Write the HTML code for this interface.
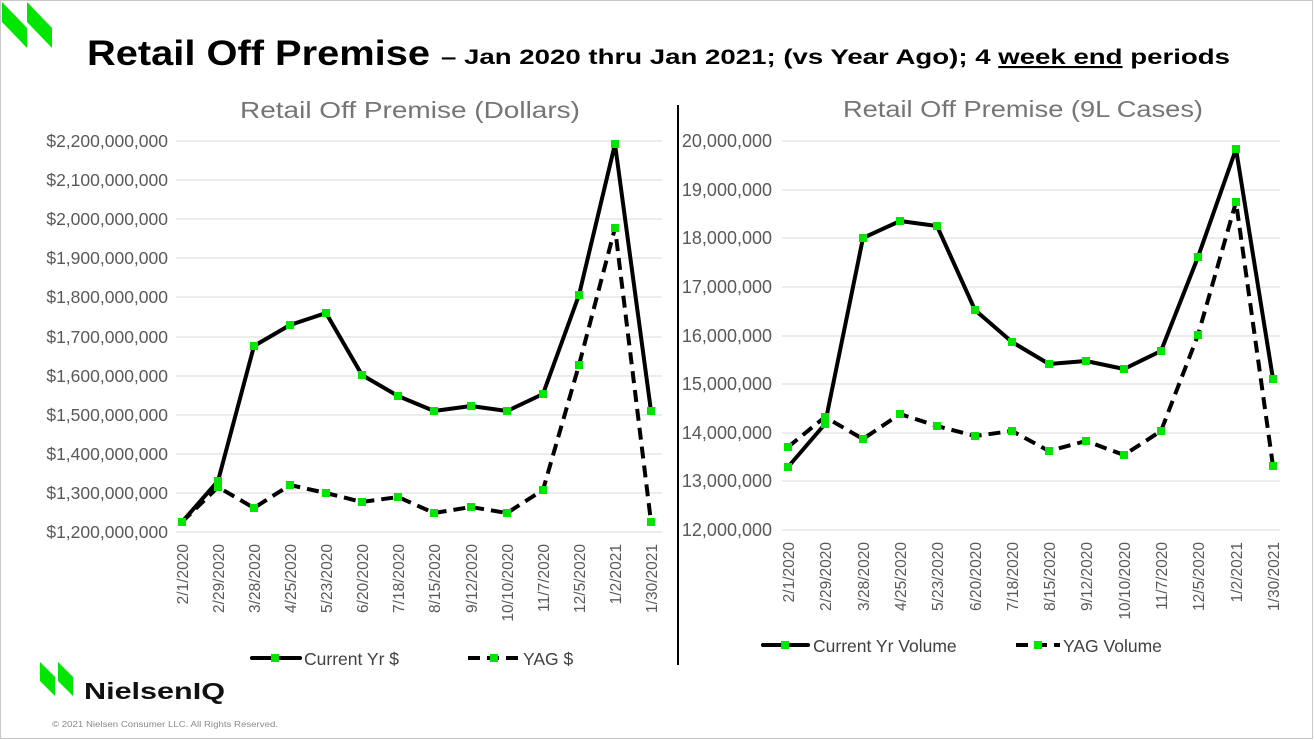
<!DOCTYPE html>
<html><head><meta charset="utf-8"><style>
html,body{margin:0;padding:0;background:#fff}
svg{display:block;font-family:"Liberation Sans",sans-serif}
</style></head><body>
<svg width="1314" height="740" viewBox="0 0 1314 740" xmlns="http://www.w3.org/2000/svg">
<rect x="0.5" y="0.5" width="1312" height="738" fill="#fff" stroke="#c8c8c8"/>
<polygon points="2,2 27,28 27,48 2,22" fill="#00e600"/>
<polygon points="27,2 52,28 52,48 27,22" fill="#00e600"/>
<text x="87" y="65" font-size="35" font-weight="bold" fill="#000" textLength="343" lengthAdjust="spacingAndGlyphs">Retail Off Premise</text>
<text x="441" y="64" font-size="21" font-weight="bold" fill="#000" textLength="789" lengthAdjust="spacingAndGlyphs">– Jan 2020 thru Jan 2021; (vs Year Ago); 4 <tspan text-decoration="underline">week end</tspan> periods</text>
<line x1="678" y1="105" x2="678" y2="665" stroke="#000" stroke-width="2"/>
<!-- LEFT CHART -->
<text x="240" y="118" font-size="23" fill="#757575" textLength="340" lengthAdjust="spacingAndGlyphs">Retail Off Premise (Dollars)</text>
<g stroke="#d9d9d9" stroke-width="1">
<line x1="176" x2="662" y1="141" y2="141"/><line x1="176" x2="662" y1="180" y2="180"/><line x1="176" x2="662" y1="219" y2="219"/><line x1="176" x2="662" y1="258" y2="258"/><line x1="176" x2="662" y1="297" y2="297"/><line x1="176" x2="662" y1="337" y2="337"/><line x1="176" x2="662" y1="376" y2="376"/><line x1="176" x2="662" y1="415" y2="415"/><line x1="176" x2="662" y1="454" y2="454"/><line x1="176" x2="662" y1="493" y2="493"/><line x1="176" x2="662" y1="532" y2="532"/>
</g>
<g font-size="17.5" fill="#595959" text-anchor="end">
<text x="168" y="147">$2,200,000,000</text><text x="168" y="186">$2,100,000,000</text><text x="168" y="225">$2,000,000,000</text><text x="168" y="264">$1,900,000,000</text><text x="168" y="303">$1,800,000,000</text><text x="168" y="343">$1,700,000,000</text><text x="168" y="382">$1,600,000,000</text><text x="168" y="421">$1,500,000,000</text><text x="168" y="460">$1,400,000,000</text><text x="168" y="499">$1,300,000,000</text><text x="168" y="538">$1,200,000,000</text>
</g>
<g font-size="15.5" fill="#595959" text-anchor="end">
<text transform="translate(188,544) rotate(-90)">2/1/2020</text>
<text transform="translate(224,544) rotate(-90)">2/29/2020</text>
<text transform="translate(260,544) rotate(-90)">3/28/2020</text>
<text transform="translate(296,544) rotate(-90)">4/25/2020</text>
<text transform="translate(332,544) rotate(-90)">5/23/2020</text>
<text transform="translate(368,544) rotate(-90)">6/20/2020</text>
<text transform="translate(404,544) rotate(-90)">7/18/2020</text>
<text transform="translate(440,544) rotate(-90)">8/15/2020</text>
<text transform="translate(477,544) rotate(-90)">9/12/2020</text>
<text transform="translate(513,544) rotate(-90)">10/10/2020</text>
<text transform="translate(549,544) rotate(-90)">11/7/2020</text>
<text transform="translate(585,544) rotate(-90)">12/5/2020</text>
<text transform="translate(621,544) rotate(-90)">1/2/2021</text>
<text transform="translate(657,544) rotate(-90)">1/30/2021</text>
</g>
<polyline fill="none" stroke="#000" stroke-width="4" stroke-dasharray="12,7" points="182,522 218,487 254,508 290,485 326,493 362,502 398,497 434,513 471,507 507,513 543,490 579,365 615,228 651,522"/>
<polyline fill="none" stroke="#000" stroke-width="4" stroke-linejoin="round" points="182,522 218,481 254,346 290,325 326,313 362,375 398,396 434,411 471,406 507,411 543,394 579,295 615,144 651,411"/>
<g fill="#00e600">
<rect x="178" y="518" width="8" height="8"/><rect x="214" y="477" width="8" height="8"/><rect x="250" y="342" width="8" height="8"/><rect x="286" y="321" width="8" height="8"/><rect x="322" y="309" width="8" height="8"/><rect x="358" y="371" width="8" height="8"/><rect x="394" y="392" width="8" height="8"/><rect x="430" y="407" width="8" height="8"/><rect x="467" y="402" width="8" height="8"/><rect x="503" y="407" width="8" height="8"/><rect x="539" y="390" width="8" height="8"/><rect x="575" y="291" width="8" height="8"/><rect x="611" y="140" width="8" height="8"/><rect x="647" y="407" width="8" height="8"/>
<rect x="214" y="483" width="8" height="8"/><rect x="250" y="504" width="8" height="8"/><rect x="286" y="481" width="8" height="8"/><rect x="322" y="489" width="8" height="8"/><rect x="358" y="498" width="8" height="8"/><rect x="394" y="493" width="8" height="8"/><rect x="430" y="509" width="8" height="8"/><rect x="467" y="503" width="8" height="8"/><rect x="503" y="509" width="8" height="8"/><rect x="539" y="486" width="8" height="8"/><rect x="575" y="361" width="8" height="8"/><rect x="611" y="224" width="8" height="8"/><rect x="647" y="518" width="8" height="8"/>
</g>
<line x1="252" y1="658" x2="300" y2="658" stroke="#000" stroke-width="4" stroke-linecap="round"/>
<rect x="271" y="654" width="8" height="8" fill="#00e600"/>
<text x="304" y="665" font-size="17.5" fill="#404040">Current Yr $</text>
<line x1="468" y1="658" x2="520" y2="658" stroke="#000" stroke-width="4" stroke-dasharray="12,7"/>
<rect x="490" y="654" width="8" height="8" fill="#00e600"/>
<text x="523" y="665" font-size="17.5" fill="#404040">YAG $</text>
<!-- RIGHT CHART -->
<text x="843" y="117" font-size="23" fill="#757575" textLength="360" lengthAdjust="spacingAndGlyphs">Retail Off Premise (9L Cases)</text>
<g stroke="#d9d9d9" stroke-width="1">
<line x1="782" x2="1280" y1="141" y2="141"/><line x1="782" x2="1280" y1="190" y2="190"/><line x1="782" x2="1280" y1="238" y2="238"/><line x1="782" x2="1280" y1="287" y2="287"/><line x1="782" x2="1280" y1="336" y2="336"/><line x1="782" x2="1280" y1="384" y2="384"/><line x1="782" x2="1280" y1="433" y2="433"/><line x1="782" x2="1280" y1="481" y2="481"/><line x1="782" x2="1280" y1="530" y2="530"/>
</g>
<g font-size="18" fill="#595959" text-anchor="end">
<text x="772" y="147">20,000,000</text><text x="772" y="196">19,000,000</text><text x="772" y="244">18,000,000</text><text x="772" y="293">17,000,000</text><text x="772" y="342">16,000,000</text><text x="772" y="390">15,000,000</text><text x="772" y="439">14,000,000</text><text x="772" y="487">13,000,000</text><text x="772" y="536">12,000,000</text>
</g>
<g font-size="15.5" fill="#595959" text-anchor="end">
<text transform="translate(794,542) rotate(-90)">2/1/2020</text>
<text transform="translate(831,542) rotate(-90)">2/29/2020</text>
<text transform="translate(869,542) rotate(-90)">3/28/2020</text>
<text transform="translate(906,542) rotate(-90)">4/25/2020</text>
<text transform="translate(943,542) rotate(-90)">5/23/2020</text>
<text transform="translate(981,542) rotate(-90)">6/20/2020</text>
<text transform="translate(1018,542) rotate(-90)">7/18/2020</text>
<text transform="translate(1055,542) rotate(-90)">8/15/2020</text>
<text transform="translate(1092,542) rotate(-90)">9/12/2020</text>
<text transform="translate(1130,542) rotate(-90)">10/10/2020</text>
<text transform="translate(1167,542) rotate(-90)">11/7/2020</text>
<text transform="translate(1204,542) rotate(-90)">12/5/2020</text>
<text transform="translate(1242,542) rotate(-90)">1/2/2021</text>
<text transform="translate(1279,542) rotate(-90)">1/30/2021</text>
</g>
<polyline fill="none" stroke="#000" stroke-width="4" stroke-dasharray="12,7" points="788,447 825,417 863,439 900,414 937,426 975,436 1012,431 1049,451 1086,441 1124,455 1161,431 1198,335 1236,202 1273,466"/>
<polyline fill="none" stroke="#000" stroke-width="4" stroke-linejoin="round" points="788,467 825,424 863,238 900,221 937,226 975,310 1012,342 1049,364 1086,361 1124,369 1161,351 1198,257 1236,149 1273,379"/>
<g fill="#00e600">
<rect x="784" y="463" width="8" height="8"/><rect x="821" y="420" width="8" height="8"/><rect x="859" y="234" width="8" height="8"/><rect x="896" y="217" width="8" height="8"/><rect x="933" y="222" width="8" height="8"/><rect x="971" y="306" width="8" height="8"/><rect x="1008" y="338" width="8" height="8"/><rect x="1045" y="360" width="8" height="8"/><rect x="1082" y="357" width="8" height="8"/><rect x="1120" y="365" width="8" height="8"/><rect x="1157" y="347" width="8" height="8"/><rect x="1194" y="253" width="8" height="8"/><rect x="1232" y="145" width="8" height="8"/><rect x="1269" y="375" width="8" height="8"/>
<rect x="784" y="443" width="8" height="8"/><rect x="821" y="413" width="8" height="8"/><rect x="859" y="435" width="8" height="8"/><rect x="896" y="410" width="8" height="8"/><rect x="933" y="422" width="8" height="8"/><rect x="971" y="432" width="8" height="8"/><rect x="1008" y="427" width="8" height="8"/><rect x="1045" y="447" width="8" height="8"/><rect x="1082" y="437" width="8" height="8"/><rect x="1120" y="451" width="8" height="8"/><rect x="1157" y="427" width="8" height="8"/><rect x="1194" y="331" width="8" height="8"/><rect x="1232" y="198" width="8" height="8"/><rect x="1269" y="462" width="8" height="8"/>
</g>
<line x1="763" y1="645" x2="808" y2="645" stroke="#000" stroke-width="4" stroke-linecap="round"/>
<rect x="781" y="641" width="8" height="8" fill="#00e600"/>
<text x="813" y="652" font-size="17.5" fill="#404040">Current Yr Volume</text>
<line x1="1016" y1="645" x2="1060" y2="645" stroke="#000" stroke-width="4" stroke-dasharray="12,7"/>
<rect x="1034" y="641" width="8" height="8" fill="#00e600"/>
<text x="1063" y="652" font-size="17.5" fill="#404040">YAG Volume</text>
<!-- bottom logo -->
<polygon points="40,662 55,677 55,696 40,681" fill="#00e600"/>
<polygon points="58,662 73,677 73,696 58,681" fill="#00e600"/>
<text x="84" y="699" font-size="23" font-weight="bold" fill="#111" textLength="141" lengthAdjust="spacingAndGlyphs">NielsenIQ</text>
<text x="52" y="727" font-size="8.5" fill="#8a8a8a" textLength="226" lengthAdjust="spacingAndGlyphs">© 2021 Nielsen Consumer LLC. All Rights Reserved.</text>
</svg>
</body></html>
